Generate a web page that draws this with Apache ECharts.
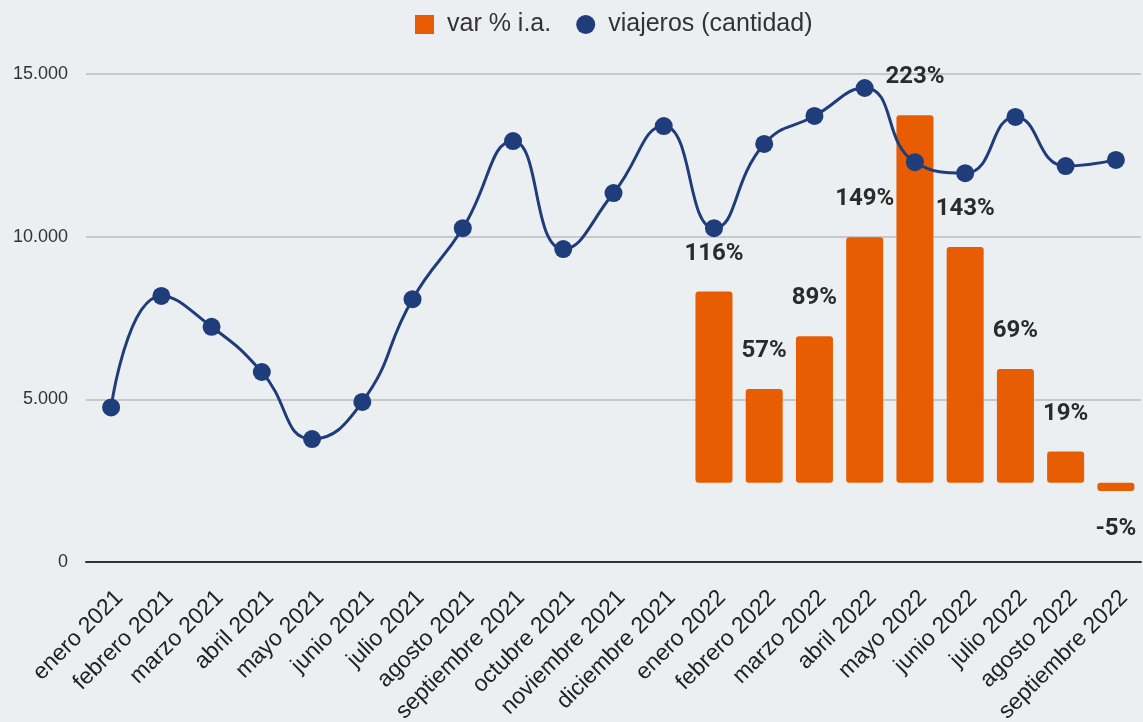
<!DOCTYPE html>
<html><head><meta charset="utf-8">
<script src="https://cdn.jsdelivr.net/npm/echarts@6/dist/echarts.min.js"></script>
<style>html,body{margin:0;padding:0;background:#eceff1;}#c{width:1143px;height:722px;}</style>
</head><body><div id="c"></div>
<script>
const categories = ["enero 2021","febrero 2021","marzo 2021","abril 2021","mayo 2021","junio 2021","julio 2021","agosto 2021","septiembre 2021","octubre 2021","noviembre 2021","diciembre 2021","enero 2022","febrero 2022","marzo 2022","abril 2022","mayo 2022","junio 2022","julio 2022","agosto 2022","septiembre 2022"];
const viajeros = [4750,8180,7230,5840,3780,4920,8080,10260,12940,9620,11340,13400,10260,12850,13710,14570,12290,11950,13680,12170,12360];
const varPct = [null,null,null,null,null,null,null,null,null,null,null,null,116,57,89,149,223,143,69,19,-5];

const chart = echarts.init(document.getElementById('c'));
const font = '"Liberation Sans", Arial, sans-serif';
const boldFont = 'Roboto, "Noto Sans", sans-serif';
chart.setOption({
  backgroundColor: '#eceff1',
  textStyle: {fontFamily: font},
  legend: {
    top: 7, left: 410, itemWidth: 19, itemHeight: 19, itemGap: 25,
    textStyle: {fontSize: 25, color: '#333', fontFamily: font, padding: [0, 0, 0, 8]},
    data: [{name: 'var % i.a.', icon: 'rect'}, {name: 'viajeros (cantidad)', icon: 'circle'}]
  },
  grid: {left: 86, right: 2, top: 74, bottom: 160, outerBoundsMode: 'none', containLabel: false},
  xAxis: {
    type: 'category', data: categories, boundaryGap: true,
    axisLine: {lineStyle: {color: '#333', width: 2}},
    axisTick: {show: false},
    axisLabel: {rotate: 45, fontSize: 23, color: '#222', fontFamily: font, margin: 24, interval: 0, verticalAlign: 'top'}
  },
  yAxis: [{
    type: 'value', min: 0, max: 15000, interval: 5000,
    axisLabel: {fontSize: 18, color: '#333', fontFamily: font, margin: 18,
      formatter: v => v === 0 ? '0' : v.toString().replace(/\B(?=(\d{3})+(?!\d))/g, '.')},
    splitLine: {lineStyle: {color: '#bdbdbd', width: 1.5}},
    axisLine: {show: false}, axisTick: {show: false}
  }, {
    type: 'value', min: -48, max: 248, show: false, splitLine: {show: false}
  }],
  series: [{
    name: 'var % i.a.', type: 'bar', yAxisIndex: 1, barWidth: 37,
    itemStyle: {color: '#e85d04', borderRadius: 3},
    data: varPct.map(v => v === null ? null : {
      value: v,
      label: {position: v < 0 ? 'bottom' : 'top'}
    }),
    label: {show: true, distance: 26, fontSize: 24, fontWeight: 'bold', color: '#2b2b2b', fontFamily: boldFont,
      formatter: p => p.value + '%'},
    z: 2
  }, {
    name: 'viajeros (cantidad)', type: 'line', data: viajeros, smooth: 0.5,
    symbol: 'circle', symbolSize: 18,
    lineStyle: {color: '#1f3d7a', width: 3},
    itemStyle: {color: '#1f3d7a'},
    z: 3
  }]
});
</script></body></html>
